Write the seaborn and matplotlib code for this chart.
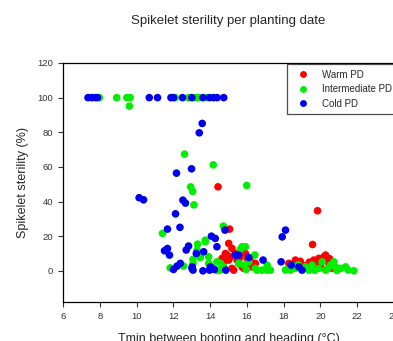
import pandas as pd
import seaborn as sns
import matplotlib.pyplot as plt

# Données (Tmin en °C, stérilité en %)
warm_x = [14.43, 15.06, 19.84, 19.57,
          15.01, 15.19, 14.92, 15.37, 15.74, 15.92, 14.74, 15.01, 15.56, 16.01,
          15.74, 16.10, 15.19, 14.65, 15.28, 15.83, 16.28, 16.46, 15.47, 14.83,
          15.10, 15.60, 16.20,
          18.28, 18.64, 19.64, 19.91, 20.19, 20.37, 20.46, 19.73, 20.28, 18.50,
          19.20, 20.00, 20.60, 19.40, 18.90, 20.50]
warm_y = [48.5, 24.1, 34.7, 15.2,
          15.8, 12.9, 9.1, 10.0, 12.9, 10.0, 5.2, 6.2, 4.3, 7.2,
          2.3, 2.3, 1.4, 7.2, 0.4, 1.4, 2.3, 4.3, 6.2, 10.0,
          8.0, 7.5, 5.5,
          4.3, 6.2, 6.2, 7.2, 8.1, 6.2, 4.3, 3.7, 9.1, 2.0,
          3.0, 2.5, 1.5, 5.0, 5.5, 7.0]

inter_x = [7.98, 8.92, 9.47, 9.65, 12.10, 12.83, 13.20, 13.37, 13.83, 9.61,
           12.61, 14.17, 12.94, 13.05, 15.99, 13.12, 11.41, 14.72, 13.74,
           13.32, 13.74, 13.92, 13.47, 13.07, 13.07, 11.83, 12.56, 13.92, 14.10,
           14.37, 14.56, 14.74, 14.56, 14.37, 15.65, 15.92, 16.43, 15.55, 15.97,
           16.55, 16.83, 17.10, 17.28, 17.10, 13.29, 15.74, 15.83, 16.46, 16.10,
           18.37, 18.64, 19.19, 19.37, 19.55, 19.91, 20.10, 20.28, 20.55, 20.73,
           20.82, 21.10, 21.37, 21.82, 18.10, 18.80, 19.00, 19.70, 20.40, 20.90,
           21.50, 18.50]
inter_y = [100, 100, 100, 100, 100, 100, 100, 100, 100, 95.1,
           67.4, 61.2, 48.5, 45.9, 49.3, 38.1, 21.6, 25.8, 17.7,
           15.4, 16.8, 8.1, 7.7, 6.6, 4.3, 1.7, 2.7, 4.3, 2.3,
           5.2, 4.3, 2.3, 0.4, 0.2, 12.4, 13.9, 9.1, 4.3, 0.8,
           0.4, 0.4, 0.4, 0.4, 3.3, 12.0, 13.9, 3.3, 1.4, 5.2,
           0.4, 1.4, 2.3, 0.4, 3.3, 1.4, 5.2, 0.4, 3.3, 5.2,
           2.3, 1.4, 2.3, 0.0, 0.5, 3.5, 1.0, 0.3, 1.2, 0.2,
           0.5, 2.8]

cold_x = [7.36, 7.56, 7.74, 7.87, 10.69, 11.14, 11.87, 12.01, 12.50, 13.01,
          13.61, 13.97, 14.19, 14.38, 14.74,
          13.57, 13.41, 12.99, 12.17, 10.14, 10.38, 12.52, 12.66, 12.12, 11.68,
          12.36, 14.81, 14.07, 14.28,
          11.68, 11.79, 11.52, 12.83, 12.70, 13.65, 13.25, 13.03, 13.07, 12.38,
          12.20, 12.01, 13.61, 13.97, 14.23, 14.85, 14.37, 15.37, 15.55, 16.10,
          16.88, 14.01, 13.01, 17.86, 17.92, 18.10, 18.41, 18.83, 19.00]
cold_y = [100, 100, 100, 100, 100, 100, 100, 100, 100, 100,
          100, 100, 100, 100, 100,
          85.1, 79.7, 58.9, 56.4, 42.2, 41.0, 40.8, 39.1, 32.9, 24.1,
          25.1, 23.5, 20.0, 18.7,
          12.9, 9.1, 11.6, 14.3, 12.0, 11.0, 10.0, 2.3, 0.4, 4.3,
          2.7, 0.8, 0.0, 0.4, 0.8, 0.4, 13.9, 9.1, 9.1, 7.7,
          6.2, 2.3, 1.4, 5.2, 19.6, 23.5, 3.3, 2.3, 0.4]

groups = ['Warm PD', 'Intermediate PD', 'Cold PD']
colors = ['#ff0000', '#00ee00', '#0000ee']

df = pd.concat([
    pd.DataFrame({'Tmin': warm_x, 'Sterility': warm_y, 'PD': groups[0]}),
    pd.DataFrame({'Tmin': inter_x, 'Sterility': inter_y, 'PD': groups[1]}),
    pd.DataFrame({'Tmin': cold_x, 'Sterility': cold_y, 'PD': groups[2]}),
])

sns.set_style('ticks')
plt.rcParams['font.family'] = ['Liberation Sans', 'DejaVu Sans']

fig = plt.figure(figsize=(3.93, 3.41), dpi=100)
ax = fig.add_axes([63 / 393, 39 / 341, 331 / 393, 239 / 341])

sns.scatterplot(data=df, x='Tmin', y='Sterility', hue='PD', hue_order=groups,
                palette=colors, s=30, edgecolor='none', linewidth=0, ax=ax)

ax.set_xlim(6, 24)
ax.set_ylim(-18, 120)
ax.set_xticks(range(6, 25, 2))
ax.set_yticks(range(0, 121, 20))
ax.tick_params(labelsize=6.8, length=3.5, width=0.8, colors='#333333', labelcolor='#333333')
for side in ['left', 'bottom', 'top']:
    ax.spines[side].set_color('black')
    ax.spines[side].set_linewidth(0.9)
ax.spines['right'].set_visible(False)

ax.set_xlabel('Tmin between booting and heading (°C)', fontsize=9, labelpad=9)
ax.set_ylabel('Spikelet sterility (%)', fontsize=9, labelpad=6)
fig.text(228 / 393, 1 - 21 / 341, 'Spikelet sterility per planting date',
         ha='center', va='center', fontsize=9.5)

leg = ax.legend(loc='upper left', bbox_to_anchor=(287 / 393, 1 - 64 / 341),
                bbox_transform=fig.transFigure, fontsize=7, frameon=True,
                fancybox=False, borderaxespad=0, handletextpad=1.0,
                labelspacing=0.45, borderpad=0.6, markerscale=0.9)
leg.get_frame().set_edgecolor('#222222')
leg.get_frame().set_linewidth(0.9)

plt.savefig('out.png', dpi=100)
